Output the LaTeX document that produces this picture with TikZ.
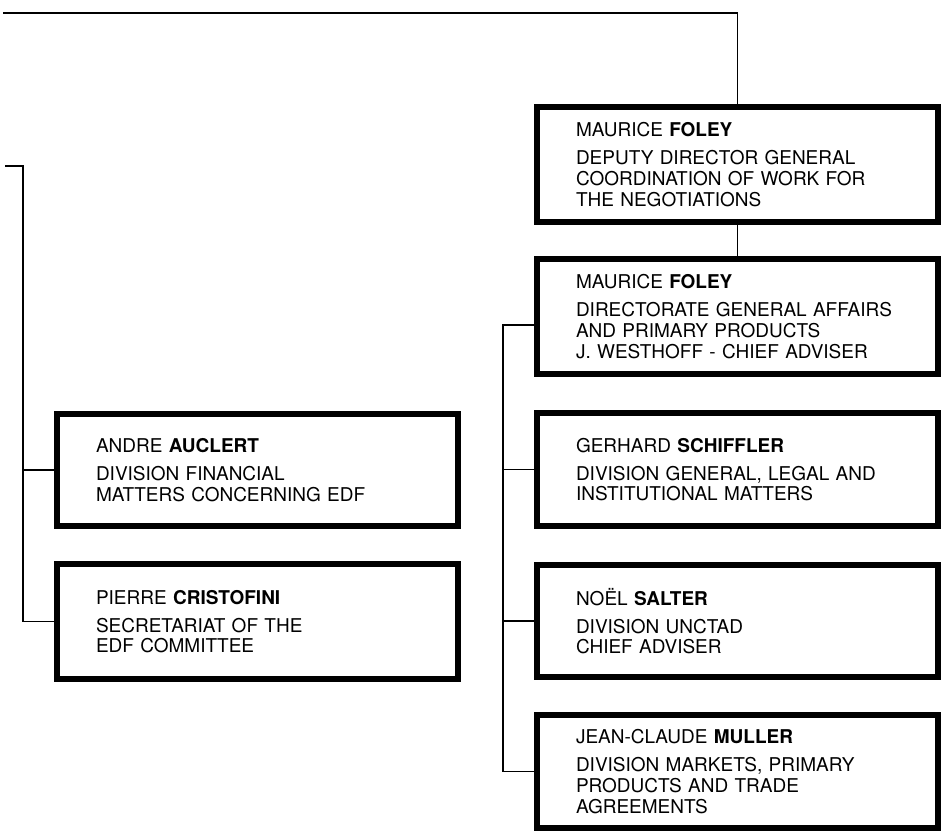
\documentclass[tikz,border=0pt]{standalone}
\usepackage{fontspec}
\setmainfont{TeX Gyre Heros}
\usepackage{tikz}
\usetikzlibrary{positioning, calc}

\begin{document}
\begin{tikzpicture}[x=1pt, y=-1pt,
    unit/.style={draw, line width=6pt, minimum width=401pt, minimum height=#1,
        text width=323pt, inner xsep=39pt, inner ysep=0pt, align=left,
        font=\fontsize{19}{20.7}\selectfont},
    link/.style={line width=1.9pt}]
    \useasboundingbox (0,0) rectangle (942,831);

    % Right column
    \node[unit=115pt] (dep) at (737.5,164.5)
        {MAURICE \textbf{FOLEY}\\[7.3pt]
         DEPUTY DIRECTOR GENERAL\\
         COORDINATION OF WORK FOR\\
         THE NEGOTIATIONS};
    \node[unit=115pt] (dgen) at (737.5,316.5)
        {MAURICE \textbf{FOLEY}\\[7.3pt]
         DIRECTORATE GENERAL AFFAIRS\\
         AND PRIMARY PRODUCTS\\
         J. WESTHOFF - CHIEF ADVISER};
    \node[unit=113pt] (schiffler) at (737.5,469.5)
        {GERHARD \textbf{SCHIFFLER}\\[7.3pt]
         DIVISION GENERAL, LEGAL AND\\
         INSTITUTIONAL MATTERS};
    \node[unit=112pt] (salter) at (737.5,621)
        {NOËL \textbf{SALTER}\\[7.3pt]
         DIVISION UNCTAD\\
         CHIEF ADVISER};
    \node[unit=113pt] (muller) at (737.5,771.5)
        {JEAN-CLAUDE \textbf{MULLER}\\[7.3pt]
         DIVISION MARKETS, PRIMARY\\
         PRODUCTS AND TRADE\\
         AGREEMENTS};

    % Left column
    \node[unit=112pt] (auclert) at (257.5,470)
        {ANDRE \textbf{AUCLERT}\\[7.3pt]
         DIVISION FINANCIAL\\
         MATTERS CONCERNING EDF};
    \node[unit=115pt] (cristofini) at (257.5,621.5)
        {PIERRE \textbf{CRISTOFINI}\\[7.3pt]
         SECRETARIAT OF THE\\
         EDF COMMITTEE};

    % Lines coming in from outside
    \coordinate (tend) at (3,13);
    \coordinate (lend) at (5,166);
    \coordinate (ltop) at (22.7,166);
    \coordinate (rtop) at (503,325);

    \draw[link] (tend) -| (dep.north);
    \draw[link] (dep.south) -- (dgen.north);

    % Right bus
    \draw[link] ([yshift=-8.5pt]dgen.west) -- (rtop) |- (muller.west);
    \foreach \n in {schiffler, salter}
        \draw[link] (\n.west) -- (\n.west -| rtop);

    % Left bus
    \draw[link] (lend) -- (ltop) |- (cristofini.west);
    \draw[link] (auclert.west) -- (auclert.west -| ltop);
\end{tikzpicture}
\end{document}
